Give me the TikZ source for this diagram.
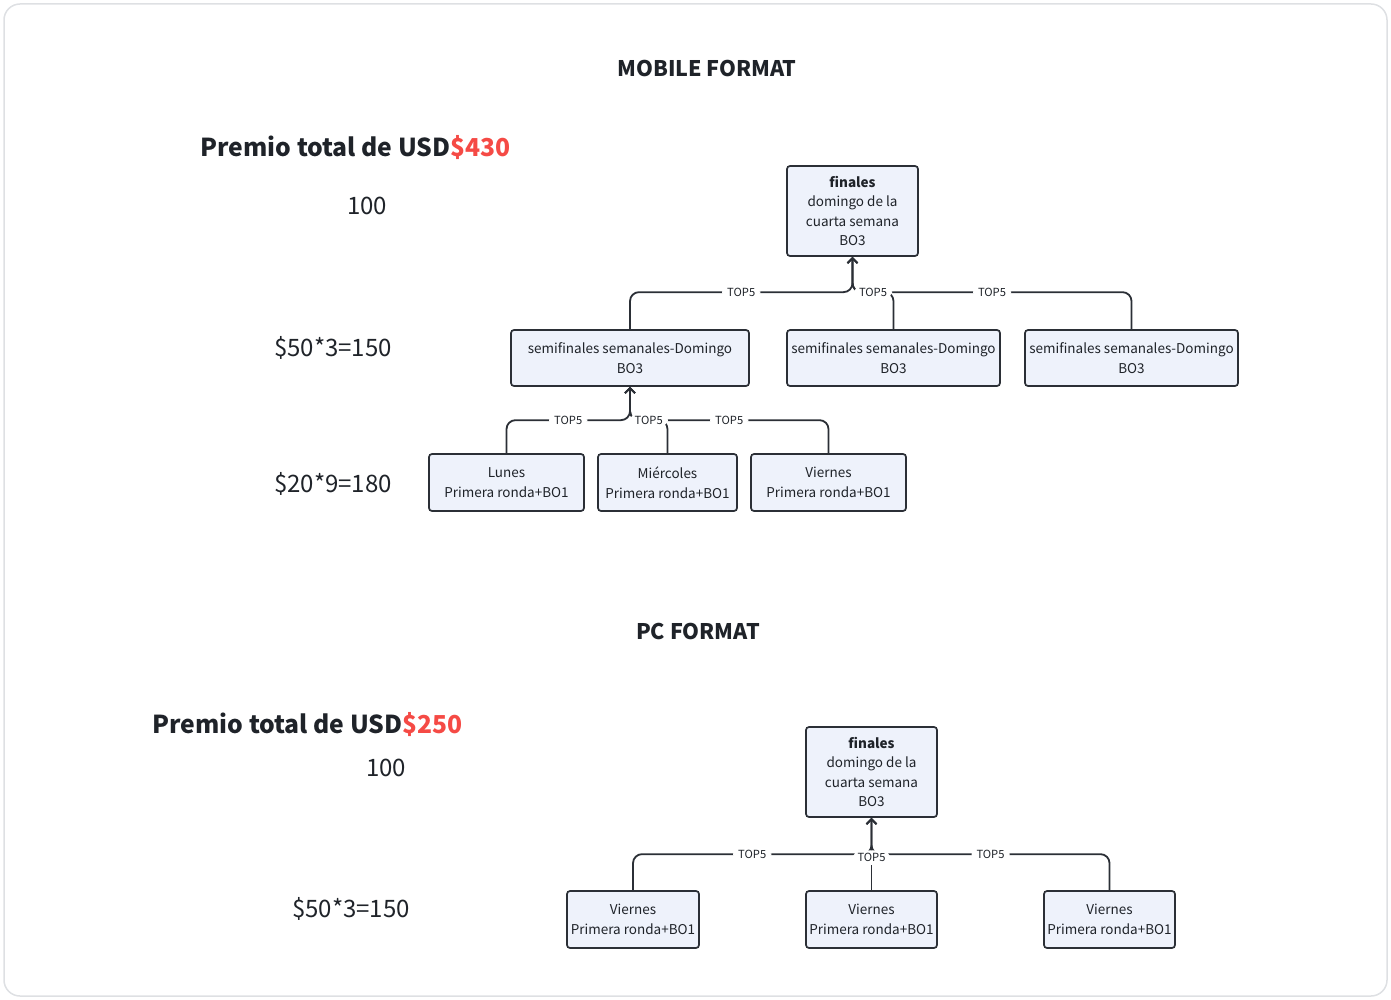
\documentclass[tikz,border=0pt]{standalone}
\usepackage{fontspec}
\setmainfont{Noto Sans CJK SC}
\usetikzlibrary{arrows.meta}
\definecolor{boxfill}{HTML}{EEF2FB}
\definecolor{boxline}{HTML}{2B2F36}
\definecolor{inkdark}{HTML}{1F2329}
\definecolor{prizered}{HTML}{F54A45}
\definecolor{frameline}{HTML}{DEE0E3}
\tikzstyle{stage}=[draw=boxline, fill=boxfill, line width=1.7pt, rounded corners=3pt, align=center, text=inkdark, inner sep=0pt, font=\fontsize{13.5}{19.5}\selectfont]
\tikzstyle{link}=[draw=boxline, line width=1.8pt, rounded corners=9pt, -{Straight Barb[length=5pt,width=10pt]}]
\tikzstyle{tag}=[fill=white, text=inkdark, inner xsep=5pt, inner ysep=3pt, font=\fontsize{11.2}{11.2}\selectfont]
\tikzstyle{heading}=[text=inkdark, font=\bfseries\fontsize{21.5}{21.5}\selectfont]
\tikzstyle{prize}=[text=inkdark, anchor=west, font=\bfseries\fontsize{24.7}{24.7}\selectfont]
\tikzstyle{amount}=[text=inkdark, font=\fontsize{24}{24}\selectfont]

\begin{document}
\begin{tikzpicture}[x=1pt, y=-1pt]
  \useasboundingbox (0,0) rectangle (1391,1000);
  \draw[frameline, line width=1.5pt, rounded corners=16pt] (4,4) rectangle (1387,996);
  % mobile
  \begin{scope}
    \node (mobTitle) at (707,69)[heading] {MOBILE FORMAT};
    \node (mobPrize) at (197,148)[prize] {Premio total de USD\textcolor{prizered}{\$430}};
    \node (mobFinAmt) at (367,206)[amount] {100};
    \node (mobSemiAmt) at (333,348)[amount] {\$50*3=150};
    \node (mobDayAmt) at (333,484)[amount] {\$20*9=180};
    \node (mobFin) at (852.5,211)[stage, minimum width=131pt, minimum height=90pt] {\textbf{finales}\\domingo de la\\cuarta semana\\BO3};
    \node (semiA) at (630,358)[stage, minimum width=238pt, minimum height=56pt] {semifinales semanales-Domingo\\BO3};
    \node (semiB) at (893.5,358)[stage, minimum width=213pt, minimum height=56pt] {semifinales semanales-Domingo\\BO3};
    \node (semiC) at (1131.5,358)[stage, minimum width=213pt, minimum height=56pt] {semifinales semanales-Domingo\\BO3};
    \node (lunes) at (506.5,482.5)[stage, minimum width=155pt, minimum height=57pt] {Lunes\\Primera ronda+BO1};
    \node (miercoles) at (667.5,482.5)[stage, minimum width=139pt, minimum height=57pt] {Miércoles\\Primera ronda+BO1};
    \node (viernes) at (828.5,482.5)[stage, minimum width=155pt, minimum height=57pt] {Viernes\\Primera ronda+BO1};
  \end{scope}
  \begin{scope}
    \draw[link] (semiC.north) -- ++(0,-37) -| node[tag, pos=0.25] {TOP5} (mobFin.south);
    \draw[link] (semiA.north) -- ++(0,-37) -| node[tag, pos=0.25] {TOP5} (mobFin.south);
    \draw[link] (semiB.north) -- ++(0,-37) -| node[tag, pos=0.25] {TOP5} (mobFin.south);
    \draw[link] (viernes.north) -- ++(0,-33) -| node[tag, pos=0.25] {TOP5} (semiA.south);
    \draw[link] (lunes.north) -- ++(0,-33) -| node[tag, pos=0.25] {TOP5} (semiA.south);
    \draw[link] (miercoles.north) -- ++(0,-33) -| node[tag, pos=0.25] {TOP5} (semiA.south);
  \end{scope}
  % pc
  \begin{scope}
    \node (pcTitle) at (698,631)[heading] {PC FORMAT};
    \node (pcPrize) at (149,725)[prize] {Premio total de USD\textcolor{prizered}{\$250}};
    \node (pcFinAmt) at (386,768)[amount] {100};
    \node (pcSemiAmt) at (351,909)[amount] {\$50*3=150};
    \node (pcFin) at (871.5,772)[stage, minimum width=131pt, minimum height=90pt] {\textbf{finales}\\domingo de la\\cuarta semana\\BO3};
    \node (pcA) at (633,919.5)[stage, minimum width=132pt, minimum height=57pt] {Viernes\\Primera ronda+BO1};
    \node (pcB) at (871.5,919.5)[stage, minimum width=131pt, minimum height=57pt] {Viernes\\Primera ronda+BO1};
    \node (pcC) at (1109.5,919.5)[stage, minimum width=131pt, minimum height=57pt] {Viernes\\Primera ronda+BO1};
  \end{scope}
  \begin{scope}
    \draw[link] (pcA.north) -- ++(0,-36) -| node[tag, pos=0.25] {TOP5} (pcFin.south);
    \draw[link] (pcC.north) -- ++(0,-36) -| node[tag, pos=0.25] {TOP5} (pcFin.south);
    \draw[link] (pcB.north) -- node[tag, pos=0.45] {TOP5} (pcFin.south);
  \end{scope}
\end{tikzpicture}
\end{document}
